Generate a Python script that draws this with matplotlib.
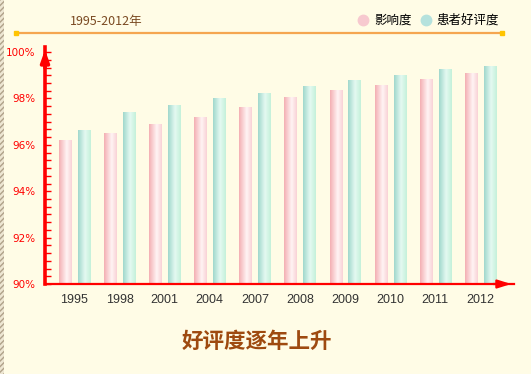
import numpy as np
import matplotlib
matplotlib.use("Agg")
import matplotlib.pyplot as plt
from matplotlib.colors import LinearSegmentedColormap
from matplotlib.lines import Line2D
from matplotlib.patches import Rectangle
from matplotlib.ticker import MultipleLocator, FuncFormatter

# === DATA ===
years = ["1995", "1998", "2001", "2004", "2007", "2008", "2009", "2010", "2011", "2012"]
influence = [96.2, 96.5, 96.9, 97.2, 97.65, 98.08, 98.35, 98.6, 98.86, 99.1]
satisfaction = [96.65, 97.4, 97.73, 98.03, 98.25, 98.55, 98.8, 99.03, 99.25, 99.42]
series_names = ["影响度", "患者好评度"]
period_label = "1995-2012年"
title = "好评度逐年上升"

# === STYLE ===
bg = "#FFFCE6"
cjk = ["Noto Sans CJK SC", "DejaVu Sans"]
pink_cmap = LinearSegmentedColormap.from_list(
    "pink", [(0, "#F4AFB3"), (0.6, "#FFF4F4"), (1, "#F9D2D6")])
teal_cmap = LinearSegmentedColormap.from_list(
    "teal", [(0, "#A0D8CC"), (0.55, "#E4F9F1"), (1, "#C4F1DA")])

fig = plt.figure(figsize=(5.31, 3.74), dpi=100)
fig.patch.set_facecolor(bg)

# hatched strip on the left edge
fig.patches.append(Rectangle((0, 0), 4 / 531, 1, transform=fig.transFigure,
                             facecolor="#EDE6D2", edgecolor="#B0A28A",
                             hatch="//////", linewidth=0))

ax = fig.add_axes([45 / 531, 1 - 284 / 374, 469 / 531, 237 / 374])
ax.set_facecolor(bg)

x = np.arange(len(years))
w = 0.27
off = 0.21
base = 90


def gradient_bars(xpos, vals, cmap):
    bars = ax.bar(xpos, np.array(vals) - base, width=w, bottom=base,
                  color="none", edgecolor="none", zorder=2)
    grad = np.linspace(0, 1, 64).reshape(1, -1)
    for b in bars:
        im = ax.imshow(grad, cmap=cmap, aspect="auto", zorder=2,
                       extent=[b.get_x(), b.get_x() + b.get_width(),
                               base, base + b.get_height()])
        im.set_clip_path(b)


gradient_bars(x - off, influence, pink_cmap)
gradient_bars(x + off, satisfaction, teal_cmap)

ax.set_xlim(-0.654, 9.745)
ax.set_ylim(90, 100.22)

# axes: red with arrows
for s in ["top", "right"]:
    ax.spines[s].set_visible(False)
ax.spines["left"].set_color("red")
ax.spines["left"].set_linewidth(2.6)
ax.spines["bottom"].set_color("red")
ax.spines["bottom"].set_linewidth(1.6)
ax.annotate("", xy=(0, 1.0), xytext=(0, 0.9), xycoords="axes fraction",
            arrowprops=dict(arrowstyle="-|>,head_length=0.7,head_width=0.25",
                            color="red", lw=2.6))
ax.annotate("", xy=(1.0, 0), xytext=(0.95, 0), xycoords="axes fraction",
            arrowprops=dict(arrowstyle="-|>,head_length=0.8,head_width=0.25",
                            color="red", lw=1.6))

ax.yaxis.set_major_locator(MultipleLocator(2))
ax.yaxis.set_minor_locator(MultipleLocator(1 / 3))
ax.yaxis.set_major_formatter(FuncFormatter(lambda v, p: f"{v:.0f}%"))
ax.tick_params(axis="y", which="both", direction="in", color="red",
               length=4, width=1, labelcolor="red", labelsize=7.5, pad=7)
ax.set_xticks(x)
ax.set_xticklabels(years, family="Liberation Sans", fontsize=9, color="#333333")
ax.tick_params(axis="x", length=0, pad=7)

# header: period label, orange rule, legend
fig.text(70 / 531, 1 - 22 / 374, period_label, family=cjk, fontsize=9,
         color="#7A4A22", va="center", ha="left")
fig.add_artist(Line2D([16 / 531, 502 / 531], [1 - 33 / 374] * 2,
                      transform=fig.transFigure, color="#F5A650", lw=1.6))
fig.add_artist(Line2D([16 / 531, 502 / 531], [1 - 33 / 374] * 2,
                      transform=fig.transFigure, ls="none", marker="s",
                      markersize=3, color="#FFC400"))

leg_y = 1 - 20 / 374
fig.add_artist(Line2D([363 / 531], [leg_y], transform=fig.transFigure, ls="none",
                      marker="o", markersize=7.5, color="#F7C9CF"))
fig.text(374 / 531, leg_y, series_names[0], family=cjk, fontsize=9,
         color="black", va="center", ha="left")
fig.add_artist(Line2D([426 / 531], [leg_y], transform=fig.transFigure, ls="none",
                      marker="o", markersize=7.5, color="#B5E2DD"))
fig.text(436 / 531, leg_y, series_names[1], family=cjk, fontsize=9,
         color="black", va="center", ha="left")

fig.text(257 / 531, 1 - 341 / 374, title, family=cjk, fontsize=15.5,
         fontweight="bold", color="#9E4A10", ha="center", va="center")

fig.savefig("out.png", dpi=100, facecolor=bg)
